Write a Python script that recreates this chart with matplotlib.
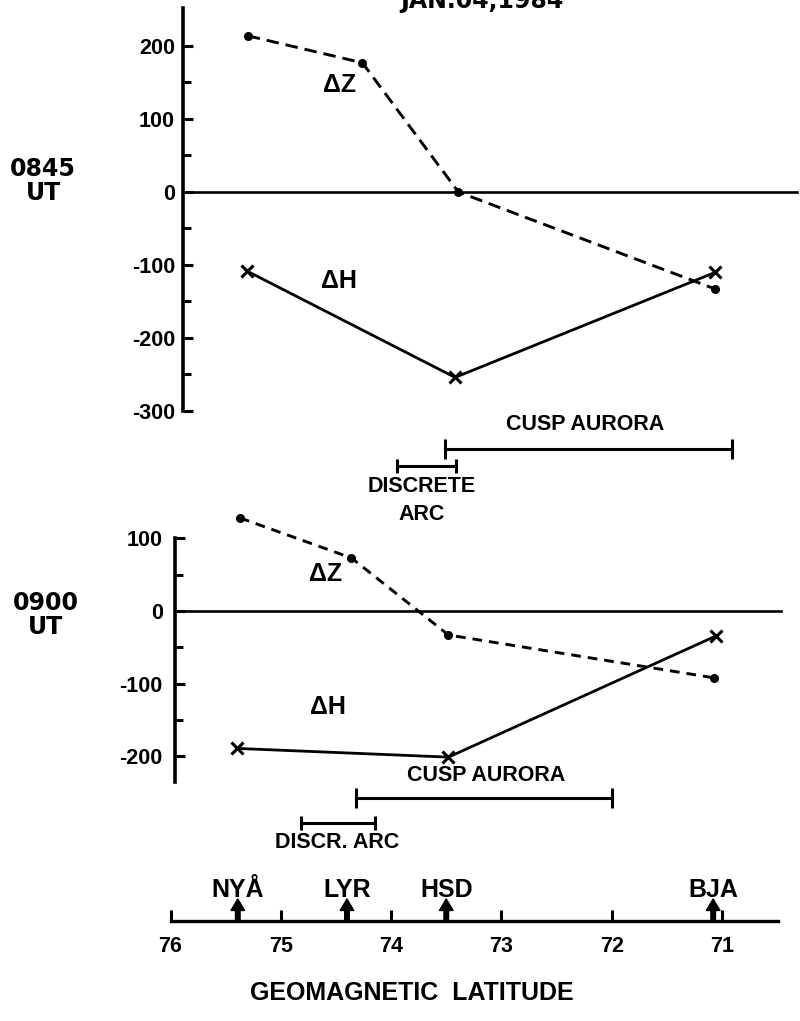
import matplotlib
matplotlib.use('Agg')
import matplotlib.pyplot as plt
from matplotlib.ticker import FixedLocator

# ---------------- data ----------------
stations = ['NYÅ', 'LYR', 'HSD', 'BJA']
station_lat = [75.39, 74.40, 73.50, 71.08]
lat_ticks = [76, 75, 74, 73, 72, 71]

# 0845 UT panel
top_dz_lat = [75.30, 74.26, 73.39, 71.06]
top_dz = [214, 177, 0, -133]
top_dh_lat = [75.31, 73.42, 71.06]
top_dh = [-108, -254, -110]
top_cusp = [73.51, 70.91]
top_discrete = [73.95, 73.41]
top_yticks = [-300, -200, -100, 0, 100, 200]
top_yminor = [-250, -150, -50, 50, 150]

# 0900 UT panel
bot_dz_lat = [75.37, 74.36, 73.48, 71.07]
bot_dz = [128, 73, -33, -92]
bot_dh_lat = [75.40, 73.48, 71.05]
bot_dh = [-189, -201, -34]
bot_cusp = [74.32, 72.00]
bot_discr = [74.82, 74.15]
bot_yticks = [-200, -100, 0, 100]
bot_yminor = [-150, -50, 50]

# ---------------- style ----------------
plt.rcParams['font.family'] = ['Liberation Sans', 'DejaVu Sans']
plt.rcParams['font.weight'] = 'bold'
plt.rcParams['axes.unicode_minus'] = False
plt.rcParams['lines.scale_dashes'] = False

W, H = 800, 1021
fig = plt.figure(figsize=(W / 100, H / 100), dpi=100)


def box(x0, y0, x1, y1):
    return [x0 / W, 1 - y1 / H, (x1 - x0) / W, (y1 - y0) / H]


PX_PER_DEG = 110.3
X76 = 170.5


def lat_at(px):
    return 76 - (px - X76) / PX_PER_DEG


XL = (lat_at(100), lat_at(800))


def setup_panel(ax, ylim, spine_lat, bounds, major, minor, pad):
    ax.set_facecolor('none')
    ax.set_xlim(*XL)
    ax.set_ylim(*ylim)
    for s in ['top', 'right', 'bottom']:
        ax.spines[s].set_visible(False)
    ax.spines['left'].set_position(('data', spine_lat))
    ax.spines['left'].set_bounds(*bounds)
    ax.spines['left'].set_linewidth(2.6)
    ax.yaxis.set_major_locator(FixedLocator(major))
    ax.yaxis.set_minor_locator(FixedLocator(minor))
    ax.tick_params(axis='y', which='major', direction='in', length=7, width=2.2,
                   pad=pad, labelsize=15.5)
    ax.tick_params(axis='y', which='minor', direction='in', length=6, width=2.2)
    ax.tick_params(axis='x', which='both', bottom=False, labelbottom=False)


def bar(ax, span, y, cap):
    ax.plot(span, [y, y], color='k', lw=2.2, marker='|', ms=cap, mew=2.2,
            clip_on=False)


# ---------------- top panel (0845 UT) ----------------
ax1 = fig.add_axes(box(100, 0, 800, 520))
setup_panel(ax1, ((192 - 520) / 0.73, 192 / 0.73), lat_at(182.7),
            (-300, 251.6), top_yticks, top_yminor, 5.5)
ax1.plot([lat_at(182.7), lat_at(797)], [0, 0], color='k', lw=1.9)
ax1.plot(top_dz_lat, top_dz, color='k', lw=2.1, ls=(0, (9, 5)),
         marker='o', ms=5.5, clip_on=False)
ax1.plot(top_dh_lat, top_dh, color='k', lw=2.0, marker='x', ms=9, mew=2.2,
         clip_on=False)
ax1.text(74.47, 147, 'ΔZ', fontsize=18, ha='center', va='center')
ax1.text(74.47, -122, 'ΔH', fontsize=18, ha='center', va='center')
bar(ax1, top_cusp, -352, 14)
bar(ax1, top_discrete, -376, 10)
ax1.text(72.24, -319, 'CUSP AURORA', fontsize=15.5, ha='center', va='center')
ax1.text(73.72, -404, 'DISCRETE', fontsize=15.5, ha='center', va='center')
ax1.text(73.72, -442, 'ARC', fontsize=15.5, ha='center', va='center')

# ---------------- bottom panel (0900 UT) ----------------
ax2 = fig.add_axes(box(100, 500, 800, 860))
setup_panel(ax2, ((611 - 860) / 0.727, (611 - 500) / 0.727), lat_at(174.5),
            (-235, 100), bot_yticks, bot_yminor, 8.5)
ax2.plot([lat_at(174.5), lat_at(781)], [0, 0], color='k', lw=1.9)
ax2.plot(bot_dz_lat, bot_dz, color='k', lw=2.1, ls=(0, (7, 5)),
         marker='o', ms=5.5, clip_on=False)
ax2.plot(bot_dh_lat, bot_dh, color='k', lw=2.0, marker='x', ms=9, mew=2.2,
         clip_on=False)
ax2.text(74.59, 51, 'ΔZ', fontsize=18, ha='center', va='center')
ax2.text(74.57, -132, 'ΔH', fontsize=18, ha='center', va='center')
bar(ax2, bot_cusp, -257, 14)
bar(ax2, bot_discr, -292, 10)
ax2.text(73.14, -226, 'CUSP AURORA', fontsize=15.5, ha='center', va='center')
ax2.text(74.49, -319, 'DISCR. ARC', fontsize=15.5, ha='center', va='center')

# ---------------- latitude axis ----------------
ax3 = fig.add_axes(box(100, 860, 800, 921))
ax3.set_facecolor('none')
ax3.set_xlim(*XL)
ax3.set_ylim(0, 61)
for s in ['top', 'right', 'left']:
    ax3.spines[s].set_visible(False)
ax3.spines['bottom'].set_linewidth(2.4)
ax3.spines['bottom'].set_bounds(76, lat_at(778))
ax3.xaxis.set_major_locator(FixedLocator(lat_ticks))
ax3.set_xticklabels([str(t) for t in lat_ticks])
ax3.tick_params(axis='x', direction='in', length=8, width=2.2, pad=11,
                labelsize=15.5)
ax3.tick_params(axis='y', left=False, labelleft=False)
for name, lat in zip(stations, station_lat):
    ax3.annotate('', xy=(lat, 22), xytext=(lat, 0),
                 arrowprops=dict(arrowstyle='simple,head_length=0.55,head_width=0.65,tail_width=0.22',
                                 color='k', shrinkA=0, shrinkB=0, mutation_scale=15),
                 annotation_clip=False)
    ax3.text(lat, 24, name, fontsize=18, ha='center', va='baseline')

# ---------------- figure texts ----------------
fig.text(482 / W, 1 - 8 / H, 'JAN.04,1984', fontsize=17, ha='center',
         va='baseline', family='DejaVu Sans', weight='bold')
fig.text(43 / W, 1 - 181 / H, '0845\nUT', fontsize=17, ha='center', va='center',
         multialignment='center', linespacing=0.95,
         family='DejaVu Sans', weight='bold')
fig.text(46 / W, 1 - 615 / H, '0900\nUT', fontsize=17, ha='center', va='center',
         multialignment='center', linespacing=1.05,
         family='DejaVu Sans', weight='bold')
fig.text(412 / W, 1 - 993 / H, 'GEOMAGNETIC  LATITUDE', fontsize=18,
         ha='center', va='center')

fig.savefig('out.png', dpi=100)
